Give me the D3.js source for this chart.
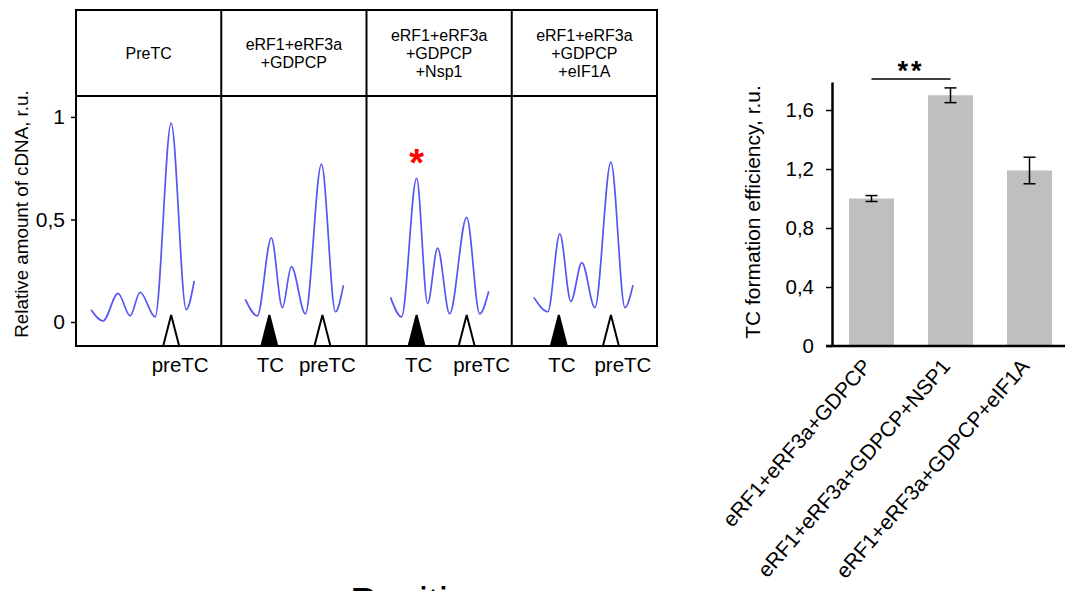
<!DOCTYPE html>
<html>
<head>
<meta charset="utf-8">
<script src="https://cdn.jsdelivr.net/npm/d3@7"></script>
<style>
  body { margin: 0; background: #fff; }
  svg { display: block; font-family: "Liberation Sans", Arial, sans-serif; }
</style>
</head>
<body>
<script>
// ---- left: toeprinting traces ----
const panelTitles = [
  ["PreTC"],
  ["eRF1+eRF3a", "+GDPCP"],
  ["eRF1+eRF3a", "+GDPCP", "+Nsp1"],
  ["eRF1+eRF3a", "+GDPCP", "+eIF1A"]
];
// [position, relative amount of cDNA]
const tracePreTC = [[15, 0.06], [27, 0.005], [42, 0.14], [54, 0.03], [64, 0.145], [79, 0.025], [95, 0.97], [110, 0.06], [118, 0.20]];
const traceRelease = [[24, 0.11], [36, 0.03], [50, 0.41], [61, 0.07], [70, 0.27], [84, 0.04], [100, 0.77], [114, 0.05], [122, 0.18]];
const traceNsp1 = [[24, 0.12], [35, 0.025], [50, 0.70], [61, 0.09], [71, 0.36], [83, 0.04], [100, 0.51], [113, 0.04], [122, 0.15]];
const traceEIF1A = [[22, 0.12], [36, 0.05], [48, 0.43], [59, 0.10], [70, 0.29], [83, 0.07], [99, 0.78], [113, 0.07], [121, 0.18]];
const traces = [tracePreTC, traceRelease, traceNsp1, traceEIF1A];
// arrow heads: filled = TC, open = preTC
const markers = [
  [{pos: 95, type: "preTC"}],
  [{pos: 48, type: "TC"}, {pos: 101, type: "preTC"}],
  [{pos: 50, type: "TC"}, {pos: 100, type: "preTC"}],
  [{pos: 47, type: "TC"}, {pos: 99, type: "preTC"}]
];
const markerLabels = [
  [{pos: 104, text: "preTC"}],
  [{pos: 49, text: "TC"}, {pos: 106, text: "preTC"}],
  [{pos: 52, text: "TC"}, {pos: 115, text: "preTC"}],
  [{pos: 50, text: "TC"}, {pos: 111, text: "preTC"}]
];
const traceTicks = [0, 0.5, 1];
const starredPeak = {panel: 2, pos: 50, value: 0.70};

// ---- right: bar chart ----
const conditions = ["eRF1+eRF3a+GDPCP", "eRF1+eRF3a+GDPCP+NSP1", "eRF1+eRF3a+GDPCP+eIF1A"];
const efficiency = [1.0, 1.70, 1.19];
const errors = [0.02, 0.05, 0.09];
const barTicks = [0, 0.4, 0.8, 1.2, 1.6];

const width = 1065, height = 591;
const fmt = d => String(d).replace(".", ",");

const svg = d3.select("body").append("svg")
    .attr("width", width)
    .attr("height", height);

// ===== traces panel =====
const boxLeft = 76, boxRight = 657, boxTop = 10, headerBottom = 96, boxBottom = 346;

const panelX = d3.scaleBand()
    .domain(d3.range(panelTitles.length))
    .range([boxLeft, boxRight]);

const posX = d3.scaleLinear().domain([0, 145]).range([0, panelX.bandwidth()]);

const yTrace = d3.scaleLinear()
    .domain([-0.117, 1.102])
    .range([boxBottom, headerBottom]);

const line = d3.line()
    .x(d => posX(d[0]))
    .y(d => yTrace(d[1]))
    .curve(d3.curveMonotoneX);

const panels = svg.selectAll("g.panel")
  .data(panelTitles)
  .join("g")
    .attr("class", "panel")
    .attr("transform", (d, i) => `translate(${panelX(i)},0)`);

// header text
panels.each(function(lines) {
    const g = d3.select(this);
    const lh = 18;
    const cy = (boxTop + headerBottom) / 2;
    g.selectAll("text.head")
      .data(lines)
      .join("text")
        .attr("class", "head")
        .attr("x", panelX.bandwidth() / 2)
        .attr("y", (d, j) => cy + (j - (lines.length - 1) / 2) * lh)
        .attr("dy", "0.35em")
        .attr("text-anchor", "middle")
        .attr("font-size", 16)
        .text(d => d);
});

panels.append("path")
    .attr("d", (d, i) => line(traces[i]))
    .attr("fill", "none")
    .attr("stroke", "#5656f2")
    .attr("stroke-width", 1.7);

// triangles
panels.each(function(d, i) {
    const g = d3.select(this);
    g.selectAll("path.mark")
      .data(markers[i])
      .join("path")
        .attr("class", "mark")
        .attr("d", m => {
            const x = posX(m.pos);
            return `M${x - 8},${boxBottom} L${x},${boxBottom - 31} L${x + 8},${boxBottom} Z`;
        })
        .attr("fill", m => m.type === "TC" ? "#000" : "#fff")
        .attr("stroke", "#000")
        .attr("stroke-width", 2)
        .attr("stroke-linejoin", "miter");

    g.selectAll("text.lab")
      .data(markerLabels[i])
      .join("text")
        .attr("class", "lab")
        .attr("x", m => posX(m.pos))
        .attr("y", 372)
        .attr("text-anchor", "middle")
        .attr("font-size", 20.5)
        .text(m => m.text);
});

// red asterisk
svg.append("text")
    .attr("x", panelX(starredPeak.panel) + posX(starredPeak.pos))
    .attr("y", yTrace(starredPeak.value) - 2)
    .attr("text-anchor", "middle")
    .attr("font-size", 38)
    .attr("font-weight", "bold")
    .attr("fill", "#ff0000")
    .text("*");

// box frame
svg.append("rect")
    .attr("x", boxLeft).attr("y", boxTop)
    .attr("width", boxRight - boxLeft).attr("height", boxBottom - boxTop)
    .attr("fill", "none").attr("stroke", "#000").attr("stroke-width", 2);
svg.append("line")
    .attr("x1", boxLeft).attr("x2", boxRight)
    .attr("y1", headerBottom).attr("y2", headerBottom)
    .attr("stroke", "#000").attr("stroke-width", 2);
svg.selectAll("line.div")
  .data(d3.range(1, panelTitles.length))
  .join("line")
    .attr("class", "div")
    .attr("x1", i => panelX(i)).attr("x2", i => panelX(i))
    .attr("y1", boxTop).attr("y2", boxBottom)
    .attr("stroke", "#000").attr("stroke-width", 2);

// y axis for traces
const yAxisL = svg.append("g")
    .attr("transform", `translate(${boxLeft},0)`)
    .call(d3.axisLeft(yTrace).tickValues(traceTicks).tickFormat(fmt).tickSize(5).tickPadding(6));
yAxisL.select(".domain").remove();
yAxisL.selectAll("line").attr("stroke-width", 1.5);
yAxisL.selectAll("text").attr("font-size", 21).attr("font-family", null);

svg.append("text")
    .attr("transform", `translate(28,${(90 + 338) / 2}) rotate(-90)`)
    .attr("text-anchor", "middle")
    .attr("font-size", 18.8)
    .text("Relative amount of cDNA, r.u.");

// cut-off x title at the bottom
svg.append("text")
    .attr("x", 350)
    .attr("y", 616)
    .attr("font-size", 40)
    .text("Position");

// ===== bar chart =====
const axisX = 832, barBottom = 346;

const xBar = d3.scaleBand()
    .domain(conditions)
    .range([axisX, axisX + 237])
    .paddingInner(0.43)
    .paddingOuter(0.215);

const yBar = d3.scaleLinear()
    .domain([0, 1.79])
    .range([barBottom, 82]);

svg.append("g")
  .selectAll("rect")
  .data(conditions)
  .join("rect")
    .attr("x", d => xBar(d))
    .attr("y", (d, i) => yBar(efficiency[i]))
    .attr("width", xBar.bandwidth())
    .attr("height", (d, i) => yBar(0) - yBar(efficiency[i]))
    .attr("fill", "#bfbfbf");

const errG = svg.append("g")
    .attr("stroke", "#000")
    .attr("stroke-width", 1.5);
conditions.forEach((c, i) => {
    const cx = xBar(c) + xBar.bandwidth() / 2;
    const lo = yBar(efficiency[i] - errors[i]);
    const hi = yBar(efficiency[i] + errors[i]);
    errG.append("line").attr("x1", cx).attr("x2", cx).attr("y1", lo).attr("y2", hi);
    errG.append("line").attr("x1", cx - 6).attr("x2", cx + 6).attr("y1", lo).attr("y2", lo);
    errG.append("line").attr("x1", cx - 6).attr("x2", cx + 6).attr("y1", hi).attr("y2", hi);
});

const yAxisR = svg.append("g")
    .attr("transform", `translate(${axisX},0)`)
    .call(d3.axisLeft(yBar).tickValues(barTicks).tickFormat(fmt).tickSize(6).tickSizeOuter(0).tickPadding(12));
yAxisR.select(".domain").attr("stroke-width", 2.5);
yAxisR.selectAll(".tick line").attr("stroke-width", 1.5);
yAxisR.selectAll("text").attr("font-size", 20.5).attr("font-family", null);

// x axis line
svg.append("line")
    .attr("x1", axisX - 6).attr("x2", width)
    .attr("y1", barBottom).attr("y2", barBottom)
    .attr("stroke", "#000").attr("stroke-width", 2.5);

svg.append("g")
  .selectAll("text")
  .data(conditions)
  .join("text")
    .attr("transform", d => `translate(${xBar(d) + xBar.bandwidth() / 2 + 1},${barBottom + 21}) rotate(-49)`)
    .attr("text-anchor", "end")
    .attr("font-size", 21)
    .text(d => d);

svg.append("text")
    .attr("transform", `translate(760,${(82 + 342) / 2}) rotate(-90)`)
    .attr("text-anchor", "middle")
    .attr("font-size", 21)
    .text("TC formation efficiency, r.u.");

// significance bracket
const sigA = xBar(conditions[0]) + xBar.bandwidth() / 2;
const sigB = xBar(conditions[1]) + xBar.bandwidth() / 2;
svg.append("line")
    .attr("x1", sigA).attr("x2", sigB)
    .attr("y1", 79).attr("y2", 79)
    .attr("stroke", "#000").attr("stroke-width", 1.5);
svg.append("text")
    .attr("x", (sigA + sigB) / 2)
    .attr("y", 80)
    .attr("text-anchor", "middle")
    .attr("font-size", 27)
    .attr("font-weight", "bold")
    .attr("letter-spacing", 3)
    .text("**");
</script>
</body>
</html>
